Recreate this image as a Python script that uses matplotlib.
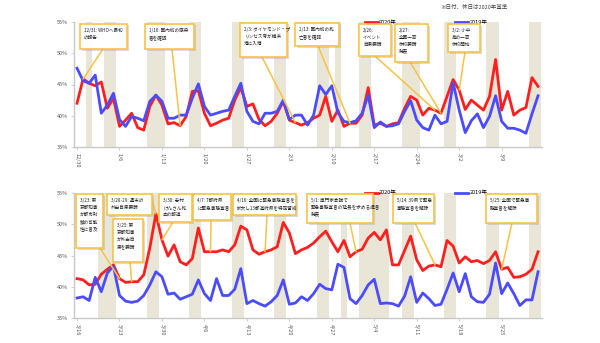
import pandas as pd
import matplotlib
matplotlib.use('Agg')
import matplotlib.pyplot as plt
from matplotlib.patches import Rectangle

plt.rcParams['font.family'] = ['Noto Sans CJK JP', 'DejaVu Sans']

# 12/30 - 3/15
top_dates = pd.date_range('2019-12-30', '2020-03-15')
top_2020 = [42.0, 45.9, 45.2, 44.8, 45.4, 41.2, 42.8, 38.3, 39.3, 40.4,
            38.1, 37.7, 41.5, 43.3, 41.7, 38.7, 38.9, 38.4, 39.9, 43.9,
            44.0, 40.4, 38.4, 38.8, 39.3, 39.6, 42.5, 44.5, 41.5, 41.9,
            39.4, 38.4, 39.1, 40.4, 42.3, 39.3, 38.9, 38.5, 38.9, 39.6,
            40.1, 43.1, 39.1, 40.9, 38.3, 38.8, 38.8, 40.1, 44.5, 38.5,
            38.8, 38.3, 38.7, 38.9, 41.2, 43.1, 42.5, 40.1, 41.2, 40.9,
            40.4, 43.1, 45.8, 44.1, 41.0, 42.5, 41.7, 40.9, 43.1, 49.0,
            40.9, 43.9, 40.1, 40.9, 41.3, 46.1, 44.7]
top_2019 = [47.6, 45.6, 45.2, 46.5, 40.4, 41.7, 43.6, 39.4, 38.3, 39.9,
            39.6, 39.2, 42.3, 43.3, 42.3, 39.6, 39.6, 40.1, 40.1, 42.8,
            45.1, 41.5, 40.1, 40.4, 40.7, 40.9, 43.1, 45.2, 40.7, 39.1,
            38.7, 40.4, 40.4, 40.7, 42.5, 39.4, 40.1, 40.1, 38.5, 40.1,
            44.8, 43.4, 44.8, 40.5, 39.1, 38.9, 39.2, 40.4, 43.3, 38.1,
            39.0, 38.3, 38.4, 38.7, 40.7, 42.4, 39.3, 38.1, 37.7, 40.1,
            38.7, 39.1, 45.3, 40.9, 37.3, 39.2, 40.3, 38.1, 39.9, 43.2,
            39.1, 38.0, 38.0, 37.7, 37.2, 40.3, 43.2]
top_holidays = ['2020-01-01', '2020-01-13', '2020-02-11', '2020-02-24']
top_ticks = ['12/30', '1/6', '1/13', '1/20', '1/27', '2/3', '2/10',
             '2/17', '2/24', '3/2', '3/9']
top_notes = ['12/31: WHOへ最初\nの報告',
             '1/16: 国内初の感染\n者を確認',
             '2/3: ダイヤモンド・プ\nリンセス号が横浜\n港に入港',
             '2/13: 国内初の死\n亡者を確認',
             '2/26:\nイベント\n自粛要請',
             '2/27:\n全国一斉\n休校要請\n発表',
             '3/2: 小中\n高の一斉\n休校開始']
top_note_days = ['2019-12-31', '2020-01-16', '2020-02-04', '2020-02-13',
                 '2020-02-27', '2020-02-28', '2020-03-02']

# 3/16 - 5/31
bottom_dates = pd.date_range('2020-03-16', '2020-05-31')
bottom_2020 = [41.3, 41.1, 40.3, 40.4, 42.0, 42.8, 43.5, 41.3, 40.7, 40.8,
               40.8, 41.9, 46.2, 51.7, 47.5, 44.9, 46.7, 44.0, 43.5, 44.5,
               49.4, 45.6, 45.6, 45.6, 45.9, 45.6, 46.7, 49.7, 49.1, 45.9,
               45.2, 45.6, 45.9, 46.4, 50.3, 48.6, 45.3, 45.9, 46.3, 47.0,
               48.0, 48.9, 47.2, 45.6, 47.4, 44.8, 45.6, 46.0, 47.8, 48.7,
               47.5, 49.1, 43.5, 43.5, 45.8, 48.1, 44.3, 42.6, 43.3, 43.5,
               43.2, 47.4, 46.5, 43.8, 44.8, 44.0, 44.2, 43.7, 44.2, 45.6,
               42.8, 43.1, 41.5, 41.6, 42.0, 42.8, 45.6]
bottom_2019 = [38.2, 38.4, 37.8, 41.5, 39.2, 42.2, 43.3, 38.6, 37.7, 37.5,
               37.7, 38.6, 40.3, 42.4, 41.6, 38.8, 39.0, 38.0, 38.4, 38.8,
               41.1, 38.9, 37.8, 41.3, 38.6, 38.6, 39.6, 42.9, 37.3, 37.8,
               37.3, 36.9, 37.6, 38.6, 41.1, 37.2, 37.4, 38.4, 37.8, 38.9,
               40.4, 39.7, 39.5, 43.6, 43.1, 38.1, 37.3, 38.6, 40.3, 41.2,
               37.3, 37.4, 37.3, 36.9, 38.5, 41.6, 37.5, 39.0, 38.1, 37.0,
               37.2, 39.6, 42.2, 39.2, 42.1, 38.4, 37.6, 37.5, 38.8, 43.8,
               38.9, 40.6, 38.9, 37.0, 37.9, 37.9, 42.4]
bottom_holidays = ['2020-03-20', '2020-04-29', '2020-05-04', '2020-05-05',
                   '2020-05-06']
bottom_ticks = ['3/16', '3/23', '3/30', '4/6', '4/13', '4/20', '4/27',
                '5/4', '5/11', '5/18', '5/25']
bottom_notes = ['3/23: 東\n京都知事\nが都市封\n鎖の可能\n性に言及',
                '3/28-29: 週末の\n外出自粛要請',
                '3/25: 東\n京都知事\nが外出自\n粛を要請',
                '3/30: 志村\nけんさん死\n去の報道',
                '4/7: 7都府県\nに緊急事態宣言',
                '4/16: 全国に緊急事態宣言を\n拡大し13都道府県を特定警戒',
                '5/1: 専門家会議で\n緊急事態宣言の延長を求める提言\n発表',
                '5/14: 39県で緊急\n事態宣言を解除',
                '5/25: 全国で緊急事\n態宣言を解除']
bottom_note_days = ['2020-03-23', '2020-03-29', '2020-03-25', '2020-03-30',
                    '2020-04-07', '2020-04-16', '2020-05-01', '2020-05-14',
                    '2020-05-25']

# layout of the callout boxes in pixels: left, top, width, height, line start
top_boxes = [(80, 24, 47, 25, 103, 49), (145, 24, 49, 25, 172, 49),
             (240, 23, 47, 34, 262, 57), (295, 23, 44, 23, 318, 46),
             (359, 24, 32, 32, 375, 56), (395, 24, 33, 38, 410, 62),
             (448, 24, 32, 28, 465, 52)]
bottom_boxes = [(76, 194, 27, 54, 100, 248), (107, 194, 45, 21, 152, 200),
                (113, 219, 30, 43, 130, 262), (159, 194, 33, 28, 173, 222),
                (193, 194, 38, 26, 211, 220), (233, 194, 63, 21, 267, 215),
                (307, 194, 66, 29, 350, 223), (393, 194, 41, 29, 415, 223),
                (486, 194, 51, 29, 512, 223)]

W, H = 600, 343
RED = '#ff1f1f'
BLUE = '#4b4bff'
GOLD = '#f6c445'
SHADE = '#e9e6d8'

fig = plt.figure(figsize=(6, 3.43), dpi=100)
fig.patch.set_facecolor('white')


def px(x, y):
    return x / W, 1 - y / H


def panel(rect, dates, v2020, v2019, holidays, ticks, notes, note_days, boxes):
    ax = fig.add_axes(rect)
    n = len(dates)
    days = list(range(n))
    hol = set(pd.to_datetime(holidays))
    for i, d in enumerate(dates):
        if d.dayofweek >= 5 or d in hol:
            ax.axvspan(i - 0.5, i + 0.5, color=SHADE, lw=0, zorder=0)
    ax.plot(days, v2020, color=RED, lw=2, label='2020年', zorder=3)
    ax.plot(days, v2019, color=BLUE, lw=2, label='2019年', zorder=3)
    ax.set_xlim(-0.5, n - 0.35)
    ax.set_ylim(35, 55)
    ax.set_yticks([35, 40, 45, 50, 55])
    ax.set_yticklabels(['%d%%' % v for v in [35, 40, 45, 50, 55]])
    ax.set_xticks(range(0, n, 7))
    ax.set_xticklabels(ticks, rotation=270)
    for s in ['top', 'right']:
        ax.spines[s].set_visible(False)
    for s in ['left', 'bottom']:
        ax.spines[s].set_color('#c8c8c8')
        ax.spines[s].set_linewidth(1)
    ax.tick_params(axis='both', length=2, width=0.6, color='#c8c8c8',
                   labelsize=4, labelcolor='#555555', pad=2)
    ax.legend(loc='center', bbox_to_anchor=(0.752, 1.0), ncol=2,
              frameon=False, fontsize=4, handlelength=2.4,
              handletextpad=0.2, columnspacing=10.5, borderaxespad=0)

    idx = {d: i for i, d in enumerate(dates)}
    for text, day, (bx, by, bw, bh, lx, ly) in zip(notes, note_days, boxes):
        i = idx[pd.Timestamp(day)]
        ax.annotate('', xy=(i, v2020[i]), xycoords='data',
                    xytext=px(lx, ly), textcoords='figure fraction',
                    arrowprops=dict(arrowstyle='-', color=GOLD, lw=1.1,
                                    shrinkA=0, shrinkB=0),
                    annotation_clip=False, zorder=4)
        x0, y0 = px(bx + 1.5, by + bh + 1.5)
        fig.add_artist(Rectangle((x0, y0), bw / W, bh / H,
                                 transform=fig.transFigure, fc='#9a9a9a',
                                 ec='none', alpha=0.35, zorder=5))
        x0, y0 = px(bx, by + bh)
        fig.add_artist(Rectangle((x0, y0), bw / W, bh / H,
                                 transform=fig.transFigure, fc='white',
                                 ec=GOLD, lw=1.2, zorder=6))
        tx, ty = px(bx + 4, by + 4)
        fig.text(tx, ty, text, ha='left', va='top', fontsize=3.3,
                 linespacing=1.5, color='#222222', zorder=7)
    return ax


panel([74 / W, 1 - 147 / H, 468 / W, 125 / H], top_dates, top_2020,
      top_2019, top_holidays, top_ticks, top_notes, top_note_days, top_boxes)
panel([74 / W, 1 - 318 / H, 468 / W, 125 / H], bottom_dates, bottom_2020,
      bottom_2019, bottom_holidays, bottom_ticks, bottom_notes,
      bottom_note_days, bottom_boxes)

fig.text(440 / W, 1 - 7 / H, '※日付、休日は2020年基準', fontsize=4,
         color='#444444', ha='left', va='center')

fig.savefig('out.png', dpi=100)
